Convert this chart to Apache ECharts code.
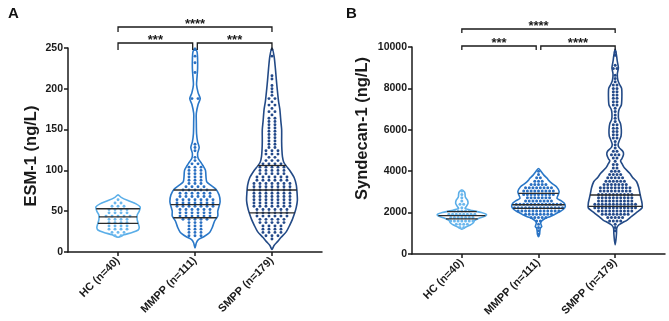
<!DOCTYPE html>
<html><head><meta charset="utf-8">
<script src="https://cdn.jsdelivr.net/npm/echarts@6/dist/echarts.min.js"></script>
<style>html,body{margin:0;padding:0;background:#fff}#c{width:669px;height:321px}</style>
</head><body><div id="c"></div>
<script>
// ---------- DATA ----------
const groupNames = ['HC (n=40)', 'MMPP (n=111)', 'SMPP (n=179)'];

// Panel A: ESM-1 (ng/L), individual values
const esmHC = [64,60,60,56,56,56,52,52,52,52,48,48,48,48,44,44,44,44,44,40,40,40,40,36,36,36,36,32,32,32,32,28,28,28,28,24,24,24,20,20];
const esmMMPP = [248,240,232,220,188,188,132,128,124,116,
  112,108,108,104,104,104,100,100,100,96,96,96,92,92,92,88,88,88,84,84,84,
  80,80,80,80,76,76,76,76,76,72,72,72,72,72,72,68,68,68,68,68,68,
  64,64,64,64,64,64,64,60,60,60,60,60,60,60,56,56,56,56,56,56,56,
  52,52,52,52,52,52,48,48,48,48,48,48,44,44,44,44,44,44,40,40,40,40,40,
  36,36,36,32,32,32,28,28,28,24,24,24,20,20,20];
const esmSMPP = [248,240,216,212,204,200,196,192,188,188,184,180,180,176,172,172,168,164,164,160,160,156,156,152,152,148,148,144,144,140,140,136,136,132,132,128,128,124,124,124,120,120,120,
  116,116,112,112,112,108,108,108,108,104,104,104,104,104,100,100,100,100,100,96,96,96,96,96,
  92,92,92,92,92,92,88,88,88,88,88,88,84,84,84,84,84,84,84,80,80,80,80,80,80,80,
  76,76,76,76,76,76,76,72,72,72,72,72,72,72,68,68,68,68,68,68,68,64,64,64,64,64,64,64,
  60,60,60,60,60,60,60,56,56,56,56,56,56,56,52,52,52,52,52,52,48,48,48,48,48,48,
  44,44,44,44,44,44,40,40,40,40,40,36,36,36,36,36,32,32,32,32,28,28,28,28,24,24,24,24,20,20,20,16];

// Panel B: Syndecan-1 (ng/L)
const sdcHC = [3040,2880,2720,2560,2400,2400,2240,2080,2080,2080,2080,2080,
  1920,1920,1920,1920,1920,1920,1920,1920,1760,1760,1760,1760,1760,1760,1760,
  1600,1600,1600,1600,1600,1600,1600,1440,1440,1440,1440,1280,1280];
const sdcMMPP = [4000,3840,3680,3680,3520,3520,3520,3360,3360,3360,3360,3360,
  3200,3200,3200,3200,3200,3200,3200,3200,3040,3040,3040,3040,3040,3040,3040,3040,3040,
  2880,2880,2880,2880,2880,2880,2880,2880,2880,2720,2720,2720,2720,2720,2720,2720,
  2560,2560,2560,2560,2560,2560,2560,2560,2400,2400,2400,2400,2400,2400,2400,2400,2400,2400,2400,2400,2400,
  2240,2240,2240,2240,2240,2240,2240,2240,2240,2240,2240,2240,2240,2240,
  2080,2080,2080,2080,2080,2080,2080,2080,2080,2080,2080,2080,
  1920,1920,1920,1920,1920,1920,1920,1920,1760,1760,1760,1760,1760,1600,1600,1440,1280,1120,960];
const sdcSMPP = [9760,9600,9120,8960,8960,8640,8480,8320,8160,8160,8000,8000,7840,7840,7680,7680,7520,7520,7360,7360,7200,7200,
  7040,6880,6720,6560,6400,6240,6240,6080,6080,5920,5920,5760,5760,5600,5600,5440,5280,5120,4960,4960,4800,4800,4800,4640,4640,4480,4320,4320,4160,4160,
  4000,4000,4000,3840,3840,3840,3840,3680,3680,3680,3680,3680,3520,3520,3520,3520,3520,3520,
  3360,3360,3360,3360,3360,3360,3360,3200,3200,3200,3200,3200,3200,3200,3200,3200,
  3040,3040,3040,3040,3040,3040,3040,3040,3040,2880,2880,2880,2880,2880,2880,2880,2880,2880,2880,
  2720,2720,2720,2720,2720,2720,2720,2720,2720,2720,2560,2560,2560,2560,2560,2560,2560,2560,2560,2560,
  2400,2400,2400,2400,2400,2400,2400,2400,2400,2400,2400,2400,2240,2240,2240,2240,2240,2240,2240,2240,2240,2240,2240,2240,
  2080,2080,2080,2080,2080,2080,2080,2080,2080,2080,1920,1920,1920,1920,1920,1920,1920,1920,
  1760,1760,1760,1760,1760,1600,1600,1600,1600,1440,1280,1120];

// Violin outlines: [value, relative density] from top to bottom
const esmHCViolin = [[70,0],[67,.12],[63,.38],[59,.69],[55,.85],[50,.81],[45,.73],[40,.73],[35,.77],[30,.81],[27,.77],[24,.54],[21,.23],[18,0]];
const esmMMPPViolin = [[250,0],[245,.08],[235,.1],[225,.1],[215,.08],[205,.06],[195,.12],[188,.2],[181,.12],[170,.05],[160,.05],[145,.06],[135,.1],[128,.16],[121,.1],[115,.12],[110,.22],[106,.3],[100,.4],[92,.42],[86,.45],[82,.6],[77,.8],[70,.92],[62,.96],[56,.92],[50,.87],[44,.87],[38,.75],[30,.66],[24,.56],[19,.35],[15,.12],[11,.05],[5,0]];
const esmSMPPViolin = [[250,0],[240,.08],[225,.13],[210,.17],[200,.2],[185,.25],[175,.3],[160,.34],[150,.37],[135,.37],[125,.38],[117,.4],[110,.45],[104,.58],[99,.7],[91,.85],[82,.93],[72,.96],[63,.97],[55,.93],[48,.87],[40,.78],[33,.68],[25,.55],[18,.35],[13,.22],[8,.08],[3,0]];
const sdcHCViolin = [[3090,0],[3000,.1],[2900,.12],[2750,.13],[2600,.21],[2450,.23],[2300,.17],[2200,.12],[2100,.38],[2000,.73],[1900,.92],[1820,.85],[1720,.62],[1620,.48],[1500,.42],[1400,.31],[1300,.15],[1200,0]];
const sdcMMPPViolin = [[4130,0],[3950,.12],[3810,.2],[3650,.33],[3570,.37],[3410,.5],[3250,.67],[3010,.77],[2850,.73],[2690,.69],[2570,.85],[2450,.96],[2300,1],[2150,.92],[2050,.8],[1900,.58],[1800,.42],[1730,.26],[1600,.12],[1500,.08],[1400,.1],[1330,.12],[1250,.07],[1100,.05],[950,.04],[840,0]];
const sdcSMPPViolin = [[9900,0],[9600,.05],[9300,.08],[9000,.12],[8700,.08],[8400,.1],[8200,.16],[8000,.24],[7600,.25],[7200,.23],[7000,.15],[6800,.12],[6500,.13],[6300,.2],[6000,.23],[5700,.22],[5500,.16],[5300,.11],[5150,.14],[4950,.29],[4800,.31],[4600,.25],[4500,.2],[4350,.26],[4150,.35],[3900,.54],[3700,.65],[3490,.8],[3200,.88],[2940,.92],[2700,.96],[2460,1],[2220,1],[1980,.77],[1800,.6],[1640,.45],[1500,.25],[1400,.13],[1250,.06],[1000,.05],[700,.03],[450,0]];

// Quartile lines [Q1, median, Q3]
const esmQuartiles = [[35,43,53],[42,58,76],[48,76,106]];
const sdcQuartiles = [[1700,1850,2050],[2200,2380,2930],[2300,2850]];

// Significance brackets: [fromGroup, toGroup, level]
const esmBrackets = [[1,1.97,0],[2.03,3,0],[1,3,1]];
const esmBracketLabels = ['***','***','****'];
const sdcBrackets = [[1,1.97,0],[2.03,3,0],[1,3,1]];
const sdcBracketLabels = ['***','****','****'];

const yTicksA = {min:0, max:250, interval:50};
const yTicksB = {min:0, max:10000, interval:2000};

// ---------- STYLE / LAYOUT ----------
const FONT = 'Arial, "Liberation Sans", Helvetica, sans-serif';
const TXT = '#1a1a1a';
const lineColors = ['#5aaee8', '#2a78c8', '#234a86'];
const dotColors = ['#6bb8ee', '#2a70c2', '#244a8a'];

const panels = [
  {grid:{left:68, top:48, width:254, height:204}, y:yTicksA, name:'ESM-1 (ng/L)', nameGap:28, namePad:[0,12,0,0],
   groups:[esmHC, esmMMPP, esmSMPP], violins:[esmHCViolin, esmMMPPViolin, esmSMPPViolin], quart:esmQuartiles,
   brackets:esmBrackets, blabels:esmBracketLabels, rowStep:4, dotGap:6, dotR:1.45, maxW:0.34,
   bLevel:[5,21], bLeg:[7,5]},
  {grid:{left:412, top:47, width:253, height:207}, y:yTicksB, name:'Syndecan-1 (ng/L)', nameGap:41, namePad:[0,0,0,44],
   groups:[sdcHC, sdcMMPP, sdcSMPP], violins:[sdcHCViolin, sdcMMPPViolin, sdcSMPPViolin], quart:sdcQuartiles,
   brackets:sdcBrackets, blabels:sdcBracketLabels, rowStep:160, dotGap:3.7, dotR:1.5, maxW:0.35,
   bLevel:[1,18], bLeg:[4,4]}
];

function widthAt(prof, v){
  for (let i=0;i<prof.length-1;i++){
    const [v1,d1]=prof[i],[v2,d2]=prof[i+1];
    if (v<=v1 && v>=v2){ const t=(v1-v)/(v1-v2||1); return d1+(d2-d1)*t; }
  }
  return 0;
}

const grids=[], xAxes=[], yAxes=[], series=[];
panels.forEach((P, pi) => {
  grids.push(P.grid);
  xAxes.push({type:'value', gridIndex:pi, min:0.35, max:3.65, splitLine:{show:false},
    axisLine:{onZero:false, lineStyle:{color:TXT, width:1.5}},
    axisTick:{customValues:[1,2,3], length:4, lineStyle:{color:TXT, width:1.5}},
    axisLabel:{customValues:[1,2,3], formatter:v=>groupNames[Math.round(v)-1], rotate:45, margin:7,
      fontFamily:FONT, fontSize:11, fontWeight:'bold', color:TXT}});
  yAxes.push({type:'value', gridIndex:pi, min:P.y.min, max:P.y.max, interval:P.y.interval, splitLine:{show:false},
    name:P.name, nameLocation:'middle', nameGap:P.nameGap,
    nameTextStyle:{fontFamily:FONT, fontSize:16.5, fontWeight:'bold', color:TXT, padding:P.namePad},
    axisLine:{show:true, onZero:false, lineStyle:{color:TXT, width:1.5}},
    axisTick:{show:true, length:4, lineStyle:{color:TXT, width:1.5}},
    axisLabel:{formatter:v=>String(v), fontFamily:FONT, fontSize:10.5, fontWeight:'bold', color:TXT, margin:5}});

  // violins
  series.push({type:'custom', xAxisIndex:pi, yAxisIndex:pi, clip:false, silent:true, z:1,
    data:[[1,P.y.min],[2,P.y.min],[3,P.y.min]], encode:{x:0,y:1},
    renderItem:(params, api)=>{
      const g=api.value(0), prof=P.violins[g-1];
      const right=prof.map(([v,d])=>api.coord([g+d*P.maxW, v]));
      const left=prof.slice(1,-1).reverse().map(([v,d])=>api.coord([g-d*P.maxW, v]));
      return {type:'polygon', shape:{points:right.concat(left), smooth:0.25},
        style:{fill:'rgba(255,255,255,0)', stroke:lineColors[g-1], lineWidth:1.6}};
    }});

  // dots (rows, centred)
  const dotData=[];
  P.groups.forEach((vals, gi)=>{
    const rows=new Map();
    vals.forEach(v=>{const k=Math.round(v/P.rowStep); rows.set(k,(rows.get(k)||0)+1);});
    rows.forEach((n,k)=>{ for(let i=0;i<n;i++) dotData.push([gi+1, k*P.rowStep, i, n]); });
  });
  series.push({type:'custom', xAxisIndex:pi, yAxisIndex:pi, clip:false, silent:true, z:2,
    data:dotData, encode:{x:0,y:1},
    renderItem:(params, api)=>{
      const g=api.value(0), p=api.coord([g, api.value(1)]);
      const dx=(api.value(2)-(api.value(3)-1)/2)*P.dotGap;
      return {type:'circle', shape:{cx:p[0]+dx, cy:p[1], r:P.dotR}, style:{fill:dotColors[g-1]}};
    }});

  // quartile lines
  const qData=[];
  P.quart.forEach((qs,gi)=>qs.forEach(q=>qData.push([gi+1,q])));
  series.push({type:'custom', xAxisIndex:pi, yAxisIndex:pi, clip:false, silent:true, z:3,
    data:qData, encode:{x:0,y:1},
    renderItem:(params, api)=>{
      const g=api.value(0), v=api.value(1), w=widthAt(P.violins[g-1], v)*P.maxW;
      const a=api.coord([g-w, v]), b=api.coord([g+w, v]);
      return {type:'line', shape:{x1:a[0], y1:a[1], x2:b[0], y2:b[1]}, style:{stroke:'#2b2b2b', lineWidth:1.3}};
    }});

  // significance brackets
  series.push({type:'custom', xAxisIndex:pi, yAxisIndex:pi, clip:false, silent:true, z:4,
    data:P.brackets.map((b,i)=>[b[0], P.y.max, b[1], b[2], i]), encode:{x:0,y:1},
    renderItem:(params, api)=>{
      const a=api.coord([api.value(0), P.y.max]), b=api.coord([api.value(2), P.y.max]);
      const lvl=api.value(3), idx=api.value(4);
      const ly=a[1]-P.bLevel[lvl], legY=ly+P.bLeg[lvl];
      return {type:'group', children:[
        {type:'polyline', shape:{points:[[a[0],legY],[a[0],ly],[b[0],ly],[b[0],legY]]}, style:{fill:null, stroke:'#1a1a1a', lineWidth:1.3}},
        {type:'text', x:(a[0]+b[0])/2, y:ly-3, style:{text:P.blabels[idx], fill:'#1a1a1a', font:'bold 13px '+FONT, textAlign:'center', textVerticalAlign:'middle'}}
      ]};
    }});
});

const chart = echarts.init(document.getElementById('c'));
chart.setOption({
  animation:false,
  backgroundColor:'#fff',
  title:[
    {text:'A', left:3, top:1, textStyle:{fontFamily:FONT, fontSize:15, fontWeight:'bold', color:'#111'}},
    {text:'B', left:341, top:1, textStyle:{fontFamily:FONT, fontSize:15, fontWeight:'bold', color:'#111'}}
  ],
  grid:grids, xAxis:xAxes, yAxis:yAxes, series:series
});
</script>
</body></html>
